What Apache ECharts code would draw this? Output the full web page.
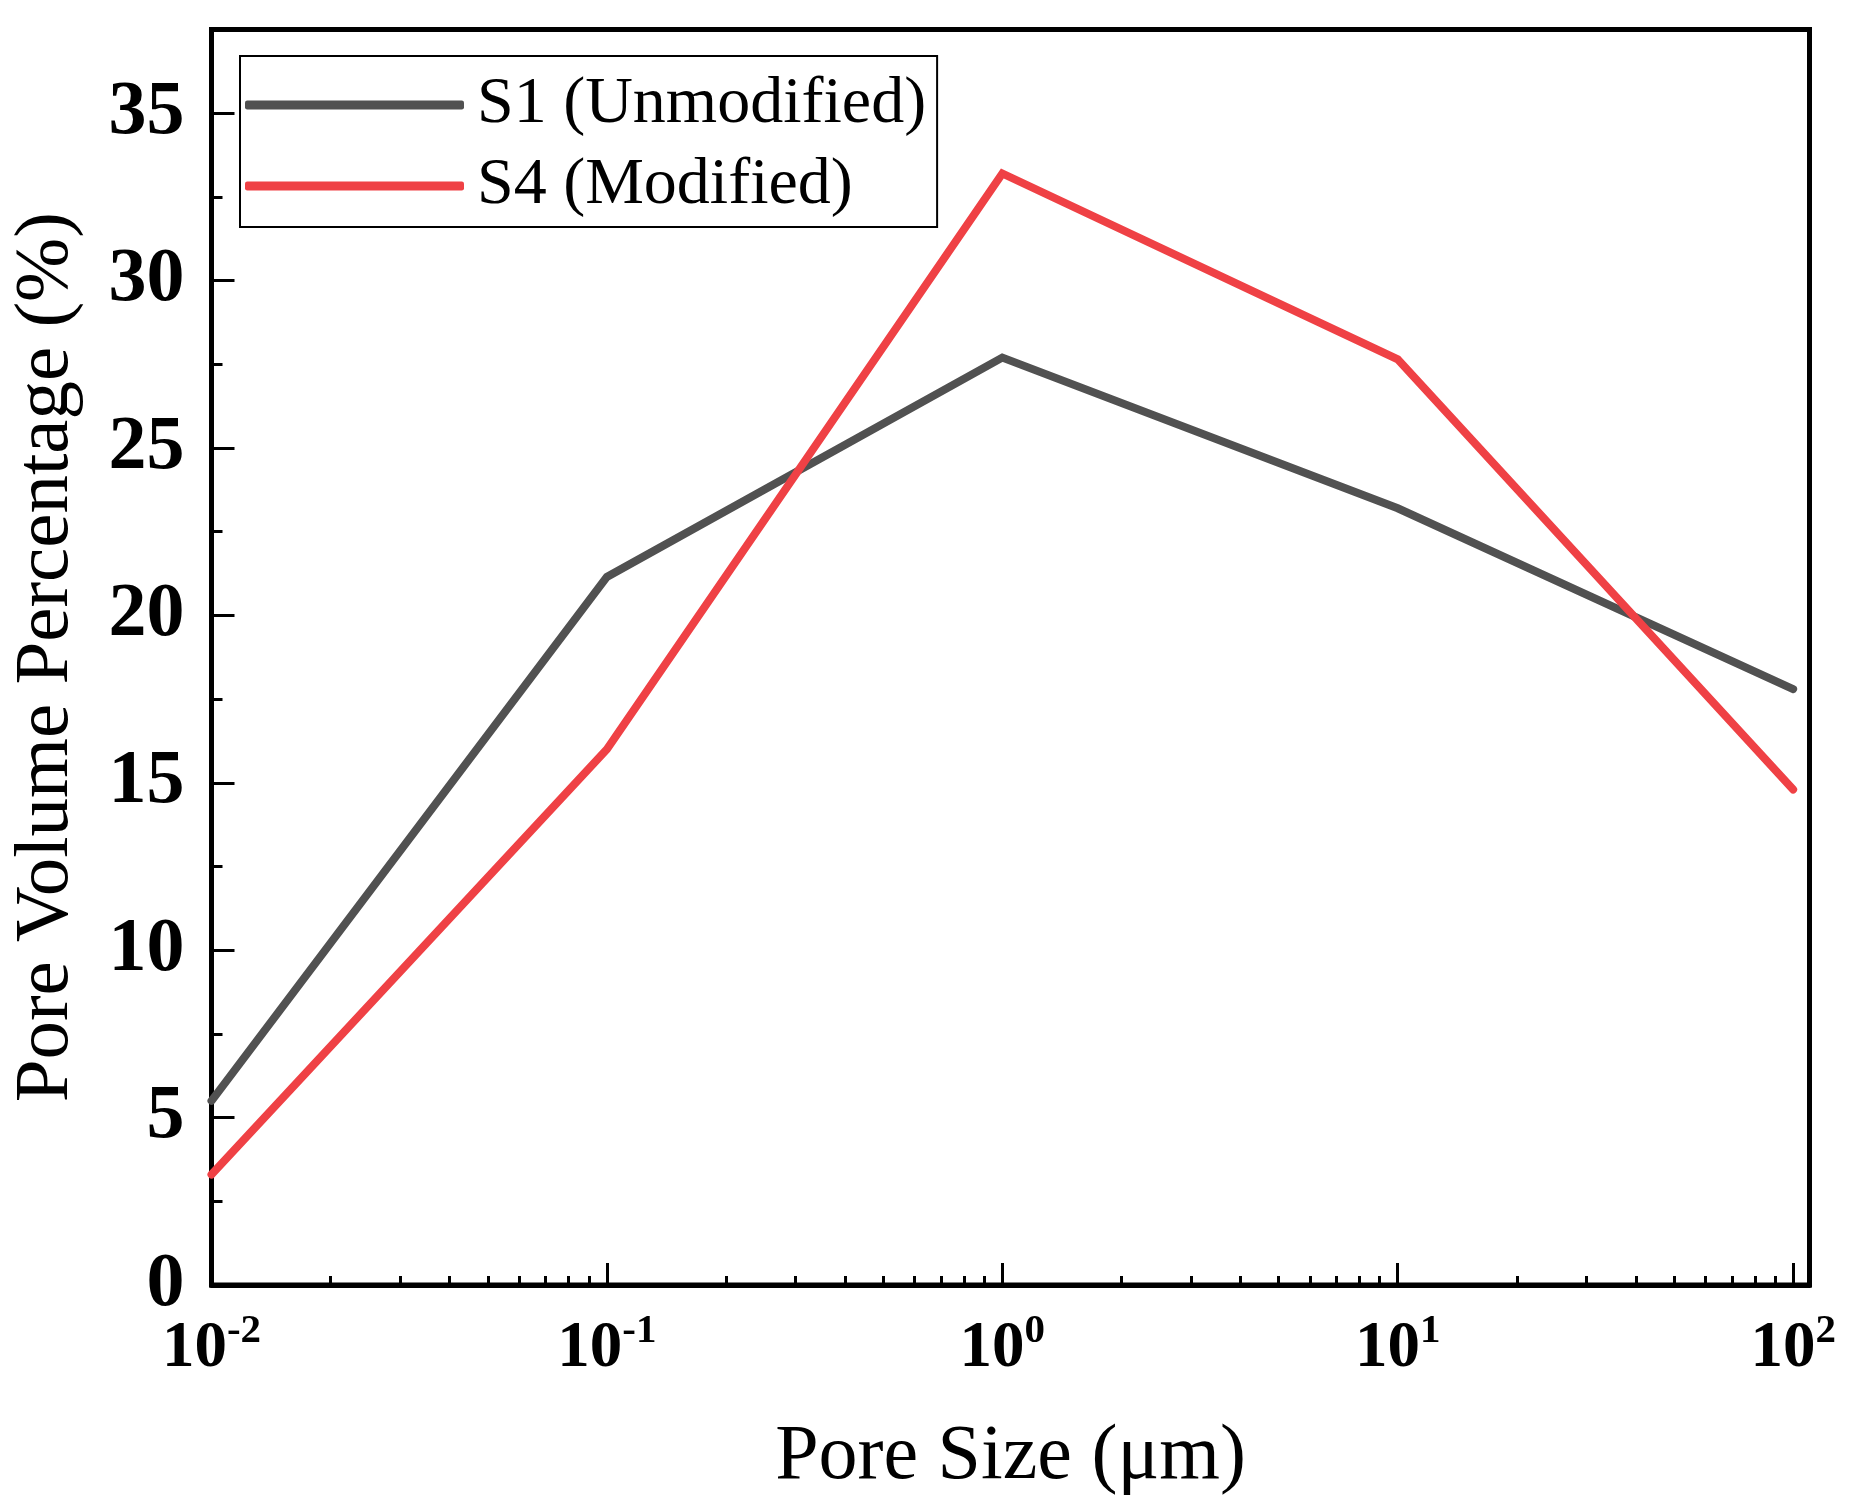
<!DOCTYPE html>
<html>
<head>
<meta charset="utf-8">
<script src="https://cdn.jsdelivr.net/npm/echarts@6/dist/echarts.min.js"></script>
<style>
html,body{margin:0;padding:0;background:#fff;}
#chart{width:1851px;height:1502px;}
</style>
</head>
<body>
<div id="chart"></div>
<script>
const poreSizes = [0.01, 0.1, 1, 10, 100];
const s1Values = [5.5, 21.15, 27.7, 23.2, 17.8];
const s4Values = [3.3, 16.0, 33.2, 27.65, 14.8];
const seriesNames = ['S1 (Unmodified)', 'S4 (Modified)'];
const xMajorTicks = [0.01, 0.1, 1, 10, 100];
const xMinorTicks = [0.02,0.03,0.04,0.05,0.06,0.07,0.08,0.09,
  0.2,0.3,0.4,0.5,0.6,0.7,0.8,0.9,
  2,3,4,5,6,7,8,9,
  20,30,40,50,60,70,80,90];
const yMajorTicks = [0, 5, 10, 15, 20, 25, 30, 35];
const yMinorTicks = [2.5, 7.5, 12.5, 17.5, 22.5, 27.5, 32.5];

const FONT = '"Liberation Serif", "Times New Roman", serif';
const chart = echarts.init(document.getElementById('chart'), null, {renderer: 'canvas'});

const toPairs = (xs, ys) => xs.map((x, i) => [x, ys[i]]);

const option = {
  backgroundColor: '#fff',
  animation: false,
  grid: {
    left: 211.5, right: 41.5, top: 29.5, bottom: 216.5,
    show: true, borderColor: '#000', borderWidth: 5, backgroundColor: 'transparent'
  },
  legend: {
    orient: 'vertical',
    left: 240, top: 56,
    padding: [16, 11, 8, 5],
    borderColor: '#000', borderWidth: 2,
    itemWidth: 219, itemHeight: 9, itemGap: 15,
    icon: 'roundRect',
    textStyle: {fontFamily: FONT, fontSize: 66, color: '#000', padding: [0, 0, 0, 8]},
    data: seriesNames
  },
  xAxis: [
    {
      type: 'log', logBase: 10, min: 0.01, max: 110, position: 'bottom',
      axisLine: {show: true, onZero: false, lineStyle: {color: '#000', width: 5}},
      axisTick: {show: true, inside: true, length: 22, lineStyle: {color: '#000', width: 3}, customValues: xMajorTicks},
      splitLine: {show: false},
      axisLabel: {
        show: true, margin: 26, customValues: xMajorTicks,
        formatter: function (v) {
          const e = Math.round(Math.log10(v));
          return '{b|10}{s|' + e + '}';
        },
        rich: {
          b: {fontFamily: FONT, fontSize: 65, fontWeight: 'bold', color: '#000', padding: [6, 0, 0, 0]},
          s: {fontFamily: FONT, fontSize: 41, fontWeight: 'bold', color: '#000', verticalAlign: 'top'}
        }
      },
      name: 'Pore Size (μm)', nameLocation: 'middle', nameGap: 134,
      nameTextStyle: {fontFamily: FONT, fontSize: 78, color: '#000'}
    },
    {
      type: 'log', logBase: 10, min: 0.01, max: 110, position: 'bottom',
      axisLine: {show: false, onZero: false},
      axisTick: {show: true, inside: true, length: 9, lineStyle: {color: '#000', width: 3}, customValues: xMinorTicks},
      axisLabel: {show: false},
      splitLine: {show: false}
    }
  ],
  yAxis: [
    {
      type: 'value', min: 0, max: 37.5, interval: 5, position: 'left',
      axisLine: {show: true, onZero: false, lineStyle: {color: '#000', width: 5}},
      axisTick: {show: true, inside: true, length: 23, lineStyle: {color: '#000', width: 3}, customValues: yMajorTicks},
      splitLine: {show: false},
      axisLabel: {
        show: true, margin: 27, customValues: yMajorTicks,
        fontFamily: FONT, fontSize: 76, fontWeight: 'bold', color: '#000'
      },
      name: 'Pore Volume Percentage (%)', nameLocation: 'middle', nameGap: 126,
      nameTextStyle: {fontFamily: FONT, fontSize: 77, color: '#000'}
    },
    {
      type: 'value', min: 0, max: 37.5, interval: 2.5, position: 'left',
      axisLine: {show: false, onZero: false},
      axisTick: {show: true, inside: true, length: 11, lineStyle: {color: '#000', width: 3}, customValues: yMinorTicks},
      axisLabel: {show: false},
      splitLine: {show: false}
    }
  ],
  series: [
    {
      name: seriesNames[0], type: 'line', xAxisIndex: 0, yAxisIndex: 0,
      data: toPairs(poreSizes, s1Values),
      showSymbol: false, symbol: 'none', z: 3,
      color: '#515151',
      lineStyle: {color: '#515151', width: 8, cap: 'round', join: 'miter'}
    },
    {
      name: seriesNames[1], type: 'line', xAxisIndex: 0, yAxisIndex: 0,
      data: toPairs(poreSizes, s4Values),
      showSymbol: false, symbol: 'none', z: 4,
      color: '#EF4145',
      lineStyle: {color: '#EF4145', width: 8, cap: 'round', join: 'miter'}
    }
  ]
};
chart.setOption(option);
</script>
</body>
</html>
